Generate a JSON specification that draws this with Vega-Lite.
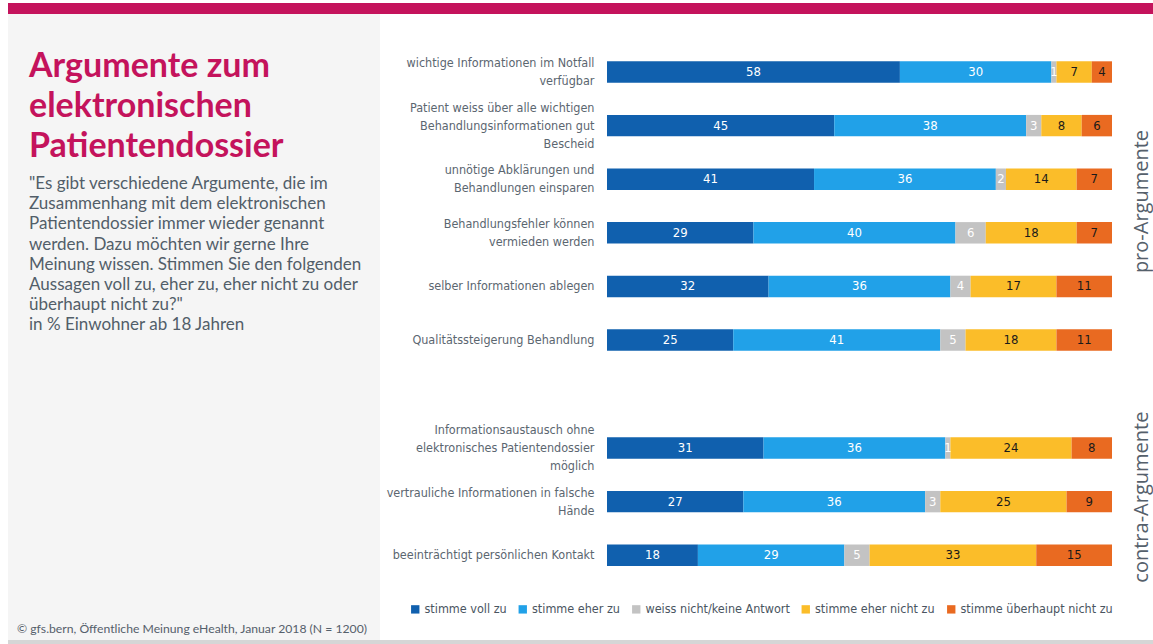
{
  "$schema": "https://vega.github.io/schema/vega-lite/v6.json",
  "padding": {"left": 8, "top": 3, "right": 0, "bottom": 0},
  "background": "#ffffff",
  "config": {"view": {"stroke": null}, "font": "Lato"},
  "title": {
    "text": "© gfs.bern, Öffentliche Meinung eHealth, Januar 2018 (N = 1200)",
    "orient": "bottom", "anchor": "start", "offset": -21, "dx": 9,
    "font": "Lato", "fontSize": 12.2, "fontWeight": "normal", "color": "#55606b"
  },
  "spacing": 0,
  "vconcat": [
    {
      "width": 1145, "height": 11,
      "data": {"values": []},
      "mark": "point",
      "view": {"fill": "#c4135c", "stroke": null}
    },
    {
      "spacing": 0,
      "hconcat": [
        {
          "width": 372, "height": 626,
          "view": {"fill": "#f5f5f5", "stroke": null},
          "title": {
            "text": ["Argumente zum", "elektronischen", "Patientendossier"],
            "subtitle": ["\"Es gibt verschiedene Argumente, die im", "Zusammenhang mit dem elektronischen", "Patientendossier immer wieder genannt", "werden. Dazu möchten wir gerne Ihre", "Meinung wissen. Stimmen Sie den folgenden", "Aussagen voll zu, eher zu, eher nicht zu oder", "überhaupt nicht zu?\"", "\u00a0in % Einwohner ab 18 Jahren"],
            "anchor": "start", "orient": "top", "frame": "group", "offset": -319.5, "dx": 21,
            "font": "Lato", "fontSize": 34, "fontWeight": "bold", "color": "#c4135c", "lineHeight": 40,
            "subtitleFont": "Lato", "subtitleFontSize": 17, "subtitleColor": "#525e69", "subtitleLineHeight": 20.2, "subtitlePadding": 12.5
          },
          "data": {"values": []},
          "mark": "point"
        },
        {
          "data": {"values": [
            {"gruppe": "pro-Argumente", "item": "wichtige Informationen im Notfall|verfügbar", "stimme voll zu": 58, "stimme eher zu": 30, "weiss nicht/keine Antwort": 1, "stimme eher nicht zu": 7, "stimme überhaupt nicht zu": 4},
            {"gruppe": "pro-Argumente", "item": "Patient weiss über alle wichtigen|Behandlungsinformationen gut|Bescheid", "stimme voll zu": 45, "stimme eher zu": 38, "weiss nicht/keine Antwort": 3, "stimme eher nicht zu": 8, "stimme überhaupt nicht zu": 6},
            {"gruppe": "pro-Argumente", "item": "unnötige Abklärungen und|Behandlungen einsparen", "stimme voll zu": 41, "stimme eher zu": 36, "weiss nicht/keine Antwort": 2, "stimme eher nicht zu": 14, "stimme überhaupt nicht zu": 7},
            {"gruppe": "pro-Argumente", "item": "Behandlungsfehler können|vermieden werden", "stimme voll zu": 29, "stimme eher zu": 40, "weiss nicht/keine Antwort": 6, "stimme eher nicht zu": 18, "stimme überhaupt nicht zu": 7},
            {"gruppe": "pro-Argumente", "item": "selber Informationen ablegen", "stimme voll zu": 32, "stimme eher zu": 36, "weiss nicht/keine Antwort": 4, "stimme eher nicht zu": 17, "stimme überhaupt nicht zu": 11},
            {"gruppe": "pro-Argumente", "item": "Qualitätssteigerung Behandlung", "stimme voll zu": 25, "stimme eher zu": 41, "weiss nicht/keine Antwort": 5, "stimme eher nicht zu": 18, "stimme überhaupt nicht zu": 11},
            {"gruppe": "contra-Argumente", "item": "Informationsaustausch ohne|elektronisches Patientendossier|möglich", "stimme voll zu": 31, "stimme eher zu": 36, "weiss nicht/keine Antwort": 1, "stimme eher nicht zu": 24, "stimme überhaupt nicht zu": 8},
            {"gruppe": "contra-Argumente", "item": "vertrauliche Informationen in falsche|Hände", "stimme voll zu": 27, "stimme eher zu": 36, "weiss nicht/keine Antwort": 3, "stimme eher nicht zu": 25, "stimme überhaupt nicht zu": 9},
            {"gruppe": "contra-Argumente", "item": "beeinträchtigt persönlichen Kontakt", "stimme voll zu": 18, "stimme eher zu": 29, "weiss nicht/keine Antwort": 5, "stimme eher nicht zu": 33, "stimme überhaupt nicht zu": 15}
          ]},
          "transform": [
            {"fold": ["stimme voll zu", "stimme eher zu", "weiss nicht/keine Antwort", "stimme eher nicht zu", "stimme überhaupt nicht zu"], "as": ["kat", "wert"]},
            {"calculate": "indexof(['stimme voll zu', 'stimme eher zu', 'weiss nicht/keine Antwort', 'stimme eher nicht zu', 'stimme überhaupt nicht zu'], datum.kat)", "as": "ord"},
            {"stack": "wert", "groupby": ["item"], "sort": [{"field": "ord", "order": "ascending"}], "as": ["x0", "x1"]},
            {"calculate": "(datum.x0 + datum.x1) / 2", "as": "xm"}
          ],
          "facet": {
            "row": {
              "field": "gruppe", "type": "nominal",
              "sort": ["pro-Argumente", "contra-Argumente"],
              "title": null,
              "header": {"labelOrient": "right", "labelAngle": -90, "labelFont": "Open Sans", "labelFontSize": 20, "labelColor": "#55606b", "labelPadding": 10}
            }
          },
          "spacing": 0,
          "resolve": {"scale": {"y": "independent"}},
          "spec": {
            "width": 505,
            "height": {"step": 53.6},
            "encoding": {
              "y": {
                "field": "item", "type": "nominal",
                "sort": ["wichtige Informationen im Notfall|verfügbar", "Patient weiss über alle wichtigen|Behandlungsinformationen gut|Bescheid", "unnötige Abklärungen und|Behandlungen einsparen", "Behandlungsfehler können|vermieden werden", "selber Informationen ablegen", "Qualitätssteigerung Behandlung", "Informationsaustausch ohne|elektronisches Patientendossier|möglich", "vertrauliche Informationen in falsche|Hände", "beeinträchtigt persönlichen Kontakt"],
                "scale": {"paddingInner": 0.6, "paddingOuter": 0.7985, "align": 0.5526},
                "axis": {
                  "title": null, "domain": false, "ticks": false, "labelPadding": 13,
                  "labelFont": "'Liberation Sans Narrow', 'DejaVu Sans Condensed', sans-serif",
                  "labelFontSize": 12.5, "labelColor": "#5b6670", "labelLineHeight": 18,
                  "labelLimit": 260, "labelExpr": "split(datum.label, '|')",
                  "labelOffset": {"condition": [
                    {"test": "length(split(datum.label, '|')) === 3", "value": -18},
                    {"test": "length(split(datum.label, '|')) === 2", "value": -9}
                  ], "value": 0},
                  "minExtent": 227, "maxExtent": 227
                }
              }
            },
            "layer": [
              {
                "mark": {"type": "bar"},
                "encoding": {
                  "x": {"field": "x0", "type": "quantitative", "scale": {"domain": [0, 100], "nice": false}, "axis": null},
                  "x2": {"field": "x1"},
                  "color": {
                    "field": "kat", "type": "nominal",
                    "scale": {
                      "domain": ["stimme voll zu", "stimme eher zu", "weiss nicht/keine Antwort", "stimme eher nicht zu", "stimme überhaupt nicht zu"],
                      "range": ["#1060ae", "#21a1e8", "#c3c3c3", "#fbbd29", "#e96a21"]
                    },
                    "legend": {
                      "orient": "none", "legendX": 401, "legendY": 600, "direction": "horizontal", "title": null,
                      "symbolType": "square", "symbolSize": 70, "symbolStrokeWidth": 0,
                      "labelFont": "'Liberation Sans Narrow', 'DejaVu Sans Condensed', sans-serif",
                      "labelFontSize": 12.5, "labelColor": "#4a5561", "columnPadding": 9.5, "labelOffset": 3
                    }
                  }
                }
              },
              {
                "mark": {"type": "text", "font": "'Liberation Sans Narrow', 'DejaVu Sans Condensed', sans-serif", "fontSize": 13, "baseline": "middle", "align": "center"},
                "encoding": {
                  "x": {"field": "xm", "type": "quantitative"},
                  "text": {"field": "wert", "type": "quantitative"},
                  "color": {
                    "condition": {"test": "datum.kat === 'stimme eher nicht zu' || datum.kat === 'stimme überhaupt nicht zu'", "value": "#1a1a1a"},
                    "value": "#ffffff"
                  }
                }
              }
            ]
          }
        }
      ]
    },
    {
      "width": 1145, "height": 4,
      "data": {"values": []},
      "mark": "point",
      "view": {"fill": "#d6d6d6", "stroke": null}
    }
  ]
}
